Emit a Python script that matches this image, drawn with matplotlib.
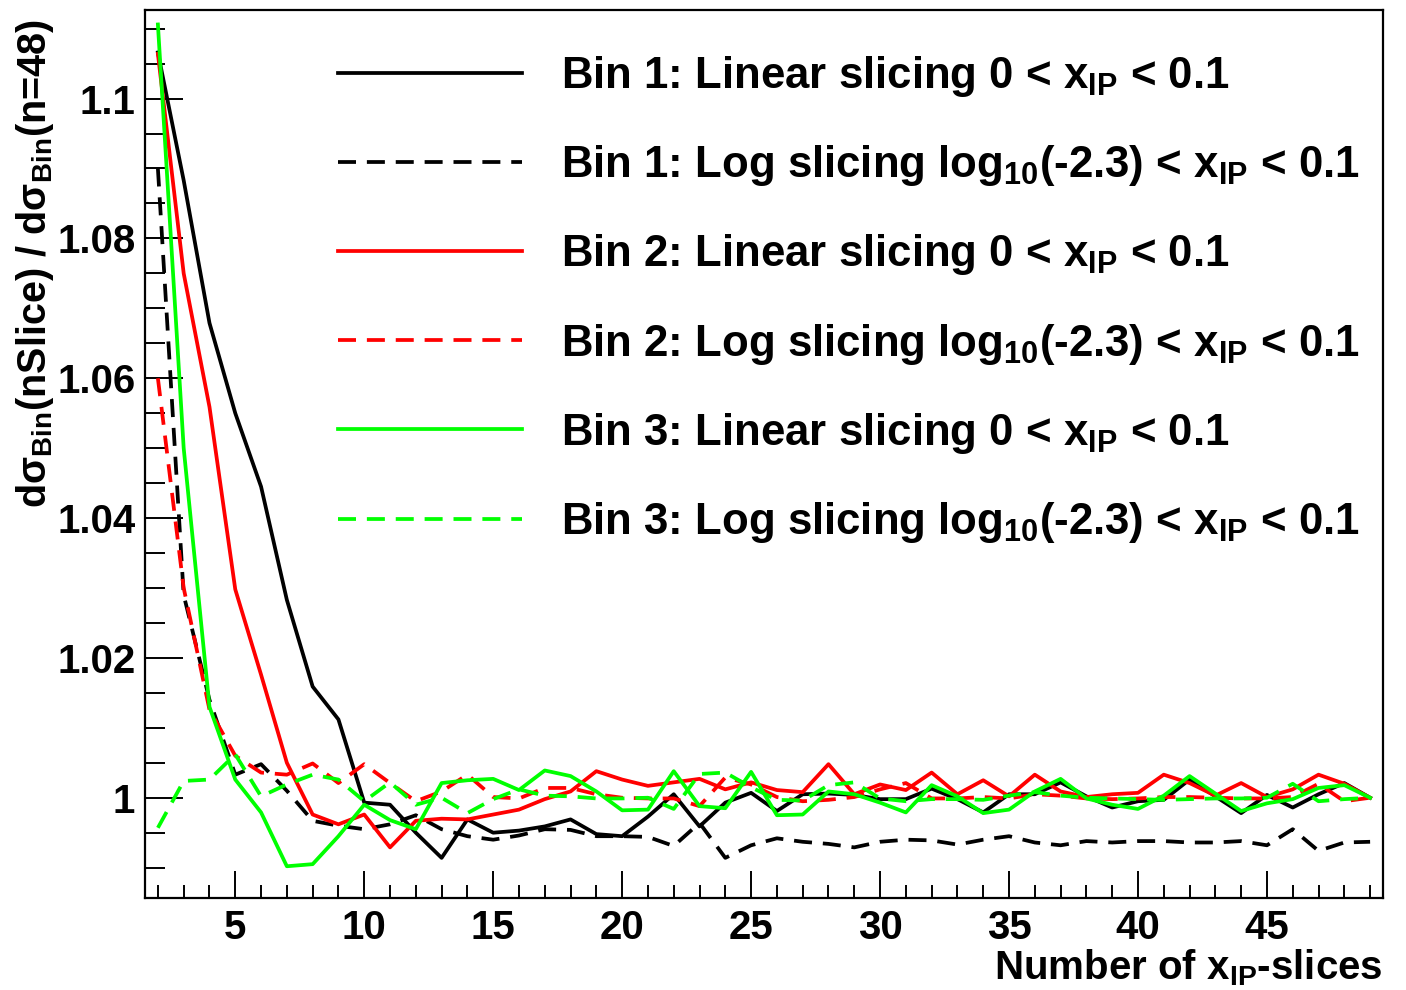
import numpy as np
import matplotlib
matplotlib.use("Agg")
import matplotlib.pyplot as plt
from matplotlib.ticker import MultipleLocator

plt.rcParams['font.family'] = ['Liberation Sans', 'DejaVu Sans']
plt.rcParams['font.weight'] = 'bold'
plt.rcParams['mathtext.default'] = 'regular'

# ---- data ----
n_slices = list(range(2, 50))

bin1_linear = [1.1066, 1.0883, 1.0679, 1.0550, 1.0445, 1.0283, 1.0159, 1.0112, 0.9993, 0.9990,
               0.9950, 0.9914, 0.9969, 0.9950, 0.9953, 0.9959, 0.9969, 0.9948, 0.9945, 0.9973,
               1.0005, 0.9959, 0.9993, 1.0007, 0.9981, 1.0005, 1.0006, 1.0004, 0.9998, 0.9998,
               1.0013, 0.9998, 0.9979, 1.0005, 1.0005, 1.0022, 1.0002, 0.9986, 0.9995, 0.9997,
               1.0026, 1.0002, 0.9978, 1.0004, 0.9986, 1.0005, 1.0021, 1.0000]
bin1_log = [1.0900, 1.0290, 1.0140, 1.0033, 1.0048, 1.0010, 0.9967, 0.9960, 0.9955, 0.9962,
            0.9975, 0.9955, 0.9945, 0.9940, 0.9946, 0.9955, 0.9954, 0.9945, 0.9945, 0.9944,
            0.9931, 0.9964, 0.9914, 0.9932, 0.9942, 0.9937, 0.9934, 0.9929, 0.9937, 0.9940,
            0.9939, 0.9933, 0.9940, 0.9945, 0.9936, 0.9932, 0.9938, 0.9936, 0.9938, 0.9938,
            0.9936, 0.9936, 0.9938, 0.9932, 0.9955, 0.9924, 0.9936, 0.9937]
bin2_linear = [1.1064, 1.0750, 1.0559, 1.0298, 1.0176, 1.0050, 0.9976, 0.9962, 0.9976, 0.9929,
               0.9967, 0.9970, 0.9969, 0.9976, 0.9983, 0.9998, 1.0009, 1.0038, 1.0026, 1.0017,
               1.0022, 1.0027, 1.0012, 1.0022, 1.0011, 1.0008, 1.0048, 1.0005, 1.0019, 1.0011,
               1.0036, 1.0005, 1.0025, 1.0002, 1.0033, 1.0009, 1.0001, 1.0005, 1.0007, 1.0033,
               1.0021, 1.0003, 1.0021, 1.0001, 1.0012, 1.0033, 1.0020, 1.0000]
bin2_log = [1.0600, 1.0300, 1.0126, 1.0060, 1.0036, 1.0033, 1.0049, 1.0021, 1.0048, 1.0021,
            0.9995, 1.0009, 1.0033, 1.0001, 0.9999, 1.0014, 1.0014, 1.0005, 1.0000, 0.9999,
            0.9999, 0.9988, 1.0029, 1.0019, 1.0001, 0.9995, 0.9997, 1.0001, 1.0012, 1.0021,
            0.9999, 0.9999, 1.0001, 0.9999, 1.0005, 1.0003, 0.9999, 0.9998, 0.9999, 1.0001,
            1.0001, 1.0000, 0.9999, 0.9999, 1.0001, 1.0020, 0.9995, 1.0000]
bin3_linear = [1.1106, 1.0500, 1.0130, 1.0026, 0.9979, 0.9902, 0.9905, 0.9945, 0.9990, 0.9968,
               0.9955, 1.0021, 1.0025, 1.0027, 1.0011, 1.0039, 1.0031, 1.0009, 0.9982, 0.9983,
               1.0038, 0.9988, 0.9985, 1.0037, 0.9975, 0.9976, 1.0009, 1.0005, 0.9993, 0.9979,
               1.0018, 1.0002, 0.9978, 0.9983, 1.0009, 1.0027, 0.9999, 0.9990, 0.9984, 1.0003,
               1.0031, 1.0006, 0.9981, 0.9992, 0.9998, 1.0014, 1.0018, 1.0000]
bin3_log = [0.9957, 1.0024, 1.0026, 1.0062, 1.0002, 1.0019, 1.0033, 1.0026, 0.9995, 1.0022,
            0.9990, 1.0000, 0.9978, 0.9998, 1.0012, 1.0003, 1.0002, 0.9999, 0.9999, 1.0000,
            0.9984, 1.0034, 1.0036, 1.0015, 0.9997, 0.9996, 1.0018, 1.0022, 0.9999, 0.9995,
            0.9998, 0.9998, 0.9997, 1.0003, 1.0008, 1.0003, 1.0000, 0.9999, 0.9998, 0.9997,
            0.9998, 0.9999, 0.9999, 1.0000, 1.0020, 0.9995, 0.9998, 1.0000]

labels = [
    r"Bin 1: Linear slicing 0 < x$_{IP}$ < 0.1",
    r"Bin 1: Log slicing log$_{10}$(-2.3) < x$_{IP}$ < 0.1",
    r"Bin 2: Linear slicing 0 < x$_{IP}$ < 0.1",
    r"Bin 2: Log slicing log$_{10}$(-2.3) < x$_{IP}$ < 0.1",
    r"Bin 3: Linear slicing 0 < x$_{IP}$ < 0.1",
    r"Bin 3: Log slicing log$_{10}$(-2.3) < x$_{IP}$ < 0.1",
]

# ---- figure ----
W, H = 1406, 990
fig = plt.figure(figsize=(W / 100, H / 100), dpi=100)
ax = fig.add_axes([145 / W, 1 - 898 / H, (1383 - 145) / W, (898 - 10) / H])

lw = 2.7
dash = (4.8, 2.9)
series = [
    (bin1_linear, '#000000', '-'),
    (bin1_log, '#000000', '--'),
    (bin2_linear, '#ff0000', '-'),
    (bin2_log, '#ff0000', '--'),
    (bin3_linear, '#00ff00', '-'),
    (bin3_log, '#00ff00', '--'),
]
for (vals, col, ls), lab in zip(series, labels):
    if ls == '--':
        ax.plot(n_slices, vals, color=col, lw=lw, dashes=dash, label=lab)
    else:
        ax.plot(n_slices, vals, color=col, lw=lw, ls='-', label=lab)

ax.set_xlim(1.5, 49.5)
ax.set_ylim(0.98566, 1.11267)

ax.xaxis.set_major_locator(MultipleLocator(5))
ax.xaxis.set_minor_locator(MultipleLocator(1))
ax.yaxis.set_major_locator(MultipleLocator(0.02))
ax.yaxis.set_minor_locator(MultipleLocator(0.005))
ax.yaxis.set_major_formatter(matplotlib.ticker.FuncFormatter(
    lambda v, p: ("%.2f" % v).rstrip('0').rstrip('.') if abs(v - 1) > 1e-9 else "1"))

ax.tick_params(axis='x', which='major', direction='in', length=19.5, width=1.4,
               labelsize=29, pad=8, top=False)
ax.tick_params(axis='x', which='minor', direction='in', length=9.5, width=1.4, top=False)
ax.tick_params(axis='y', which='major', direction='in', length=27.5, width=1.4,
               labelsize=29, pad=7, right=False)
ax.tick_params(axis='y', which='minor', direction='in', length=14.5, width=1.4, right=False)
for lbl in ax.get_xticklabels() + ax.get_yticklabels():
    lbl.set_fontweight('bold')
for sp in ax.spines.values():
    sp.set_linewidth(1.6)

ax.set_xlabel(r"Number of x$_{IP}$-slices", fontsize=29, fontweight='bold', loc='right', labelpad=0)
ax.set_ylabel(r"d$\sigma_{Bin}$(nSlice) / d$\sigma_{Bin}$(n=48)", fontsize=28.5, fontweight='bold',
              loc='top', labelpad=1)
ax.yaxis.label.set_y(0.99)

leg = ax.legend(loc='upper left', bbox_to_anchor=(338 / W, 1 - 54 / H), bbox_transform=fig.transFigure,
                frameon=False, fontsize=31.5, handlelength=4.2, handletextpad=0.9,
                labelspacing=1.01, borderpad=0, borderaxespad=0)
for t in leg.get_texts():
    t.set_fontweight('bold')

fig.savefig("out.png", dpi=100)
